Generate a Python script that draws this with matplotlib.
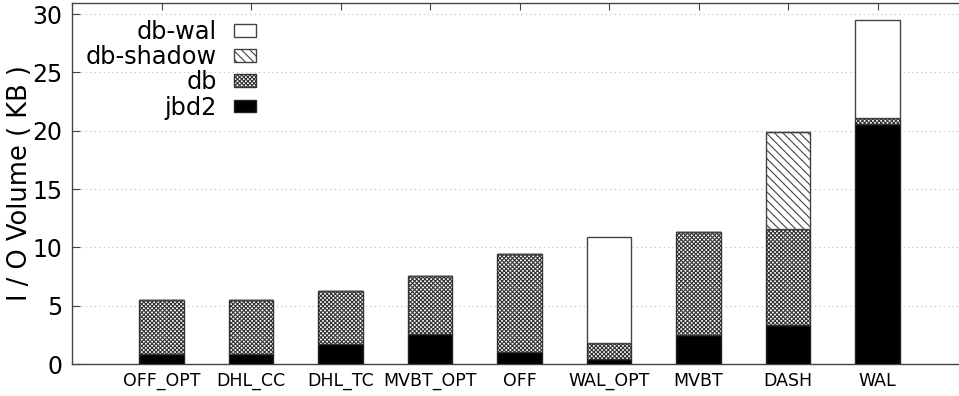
import matplotlib
matplotlib.use("Agg")
import matplotlib.pyplot as plt
import numpy as np

categories = ["OFF_OPT", "DHL_CC", "DHL_TC", "MVBT_OPT", "OFF", "WAL_OPT", "MVBT", "DASH", "WAL"]
jbd2 = [0.85, 0.85, 1.74, 2.55, 1.03, 0.40, 2.46, 3.34, 20.60]
db = [4.61, 4.61, 4.52, 5.00, 8.40, 1.37, 8.85, 8.26, 0.45]
db_shadow = [0, 0, 0, 0, 0, 0, 0, 8.30, 0]
db_wal = [0, 0, 0, 0, 0, 9.09, 0, 0, 8.40]
yticks = [0, 5, 10, 15, 20, 25, 30]

plt.rcParams['font.family'] = ['DejaVu Sans']
plt.rcParams['hatch.linewidth'] = 0.8

W, H = 959, 396
fig = plt.figure(figsize=(W / 100, H / 100), dpi=100)
ax_left = 72 / W
ax_right = (72 + 10 * 89.5) / W
ax = fig.add_axes([ax_left, 1 - 364 / H, ax_right - ax_left, (364 - 3) / H])

x = np.arange(len(categories))
w = 0.5
ec = '#222222'
b0 = np.zeros(len(categories))
ax.bar(x, jbd2, w, bottom=b0, color='black', edgecolor=ec, linewidth=1, label='jbd2', zorder=3)
b1 = b0 + np.array(jbd2)
ax.bar(x, db, w, bottom=b1, color='white', edgecolor='#333333', hatch='xxxxxxxx', linewidth=1, label='db', zorder=3)
b2 = b1 + np.array(db)
ax.bar(x, db_shadow, w, bottom=b2, color='white', edgecolor='#444444', hatch='\\\\\\\\', linewidth=1, label='db-shadow', zorder=3)
b3 = b2 + np.array(db_shadow)
ax.bar(x, db_wal, w, bottom=b3, color='white', edgecolor='#444444', linewidth=1, label='db-wal', zorder=3)

ax.set_xlim(-1, 9)
ax.set_ylim(0, 30.95)
ax.set_xticks(x)
ax.set_xticklabels(categories, fontsize=12.5)
ax.set_yticks(yticks)
ax.set_yticklabels([str(v) for v in yticks], fontsize=17)
ax.set_ylabel("I / O Volume ( KB )", fontsize=18.5, labelpad=-0.5)

for s in ['left', 'top', 'bottom']:
    ax.spines[s].set_color('#444444')
    ax.spines[s].set_linewidth(1)
ax.spines['right'].set_visible(False)
ax.tick_params(axis='y', direction='in', length=6, color='#444444', pad=7)
ax.tick_params(axis='x', direction='in', length=5, color='#444444', top=True, pad=6)

ax.yaxis.grid(True, linestyle=(0, (1, 3)), color='#bbbbbb', linewidth=0.8, zorder=0)
ax.set_axisbelow(True)

handles, labels = ax.get_legend_handles_labels()
order = [3, 2, 1, 0]
leg = ax.legend([handles[i] for i in order], [labels[i] for i in order],
                loc='upper right', bbox_to_anchor=((256 - 72) / 895, (364 - 20) / 361),
                markerfirst=False, frameon=False, fontsize=17.3,
                handlelength=0.92, handleheight=0.44,
                labelspacing=0.05, handletextpad=0.7, borderaxespad=0, borderpad=0)
for t in leg.get_texts():
    t.set_ha('right')
leg._legend_box.align = 'right'

fig.savefig("out.png", dpi=100)
